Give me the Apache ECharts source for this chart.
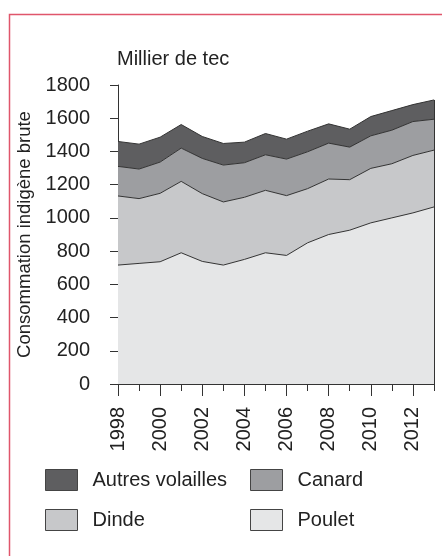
<!DOCTYPE html>
<html>
<head>
<meta charset="utf-8">
<script src="https://cdn.jsdelivr.net/npm/echarts@6/dist/echarts.min.js"></script>
<style>
  html, body { margin: 0; padding: 0; background: #fff; }
  #chart { width: 442px; height: 556px; }
</style>
</head>
<body>
<div id="chart"></div>
<script>
// years on the x axis
var years = ['1998','1999','2000','2001','2002','2003','2004','2005',
             '2006','2007','2008','2009','2010','2011','2012','2013'];

// consommation indigène brute, millier de tec
var poulet = [716, 726, 736, 790, 738, 716, 750, 790, 774, 850, 900, 926, 970, 1000, 1030, 1066];
var dinde  = [416, 390, 412, 430, 408, 380, 374, 376, 360, 326, 334, 304, 328, 326, 346, 342];
var canard = [178, 178, 188, 200, 212, 222, 208, 214, 220, 222, 216, 196, 196, 202, 204, 186];
var autres = [150, 150, 150, 142, 132, 130, 124, 128, 120, 124, 116, 108, 116, 118, 102, 116];

var FONT = 'Liberation Sans';
var INK = '#222';

function stackedArea(name, data, fill) {
    return {
        name: name,
        type: 'line',
        stack: 'total',
        data: data,
        symbol: 'none',
        showSymbol: false,
        silent: true,
        itemStyle: { color: fill },
        lineStyle: { color: '#333', width: 1 },
        areaStyle: { color: fill, opacity: 1 }
    };
}

var lastIdx = years.length - 1;
var topTotal = poulet[lastIdx] + dinde[lastIdx] + canard[lastIdx] + autres[lastIdx];

var series = [
    stackedArea('Poulet', poulet, '#e5e6e7'),
    stackedArea('Dinde', dinde, '#c7c8ca'),
    stackedArea('Canard', canard, '#9d9ea1'),
    stackedArea('Autres volailles', autres, '#5e5e60')
];
// right hand edge of the stack
series[3].markLine = {
    silent: true,
    symbol: 'none',
    label: { show: false },
    lineStyle: { color: '#333', width: 1, type: 'solid' },
    data: [[ { xAxis: years[lastIdx], yAxis: 0 }, { xAxis: years[lastIdx], yAxis: topTotal } ]]
};

var legendCommon = {
    orient: 'vertical',
    top: 469,
    padding: 0,
    icon: 'rect',
    itemWidth: 32,
    itemHeight: 21,
    itemGap: 18,
    selectedMode: false,
    itemStyle: { borderColor: '#444', borderWidth: 1 },
    textStyle: { fontFamily: FONT, fontSize: 20, color: INK, padding: [7, 0, 0, 10] }
};

var option = {
    animation: false,
    textStyle: { fontFamily: FONT },
    graphic: [{
        type: 'rect',
        z: -10,
        shape: { x: 9.5, y: 14.5, width: 500, height: 600 },
        style: { fill: 'none', stroke: '#e0566b', lineWidth: 1.5 }
    }, {
        type: 'text',
        left: 117,
        top: 49,
        style: { text: 'Millier de tec', font: '20px "Liberation Sans"', fill: INK }
    }],
    legend: [
        Object.assign({ left: 45, data: ['Autres volailles', 'Dinde'] }, legendCommon),
        Object.assign({ left: 250, data: ['Canard', 'Poulet'] }, legendCommon)
    ],
    grid: { left: 118, right: 8, top: 85, bottom: 172 },
    xAxis: [{
        type: 'category',
        data: years,
        boundaryGap: false,
        axisLine: { lineStyle: { color: '#333', width: 1 } },
        axisTick: { interval: 0, length: 7, lineStyle: { color: '#333' } },
        axisLabel: { interval: 1, rotate: 90, margin: 23, fontSize: 20, color: INK, fontFamily: FONT }
    }, {
        // long ticks on even years
        type: 'category',
        data: years,
        boundaryGap: false,
        position: 'bottom',
        axisLine: { show: false },
        axisTick: { interval: 1, length: 12, lineStyle: { color: '#333' } },
        axisLabel: { show: false }
    }],
    yAxis: {
        type: 'value',
        min: 0,
        max: 1800,
        interval: 200,
        name: 'Consommation indigène brute',
        nameLocation: 'middle',
        nameGap: 82,
        nameTextStyle: { fontFamily: FONT, fontSize: 18.5, color: INK },
        axisLine: { show: true, lineStyle: { color: '#333', width: 1 } },
        axisTick: { show: true, length: 8, lineStyle: { color: '#333' } },
        splitLine: { show: false },
        axisLabel: { margin: 28, fontSize: 20, color: INK, fontFamily: FONT,
                     formatter: function (v) { return String(v); } }
    },
    series: series
};

var chart = echarts.init(document.getElementById('chart'));
chart.setOption(option);
</script>
</body>
</html>
